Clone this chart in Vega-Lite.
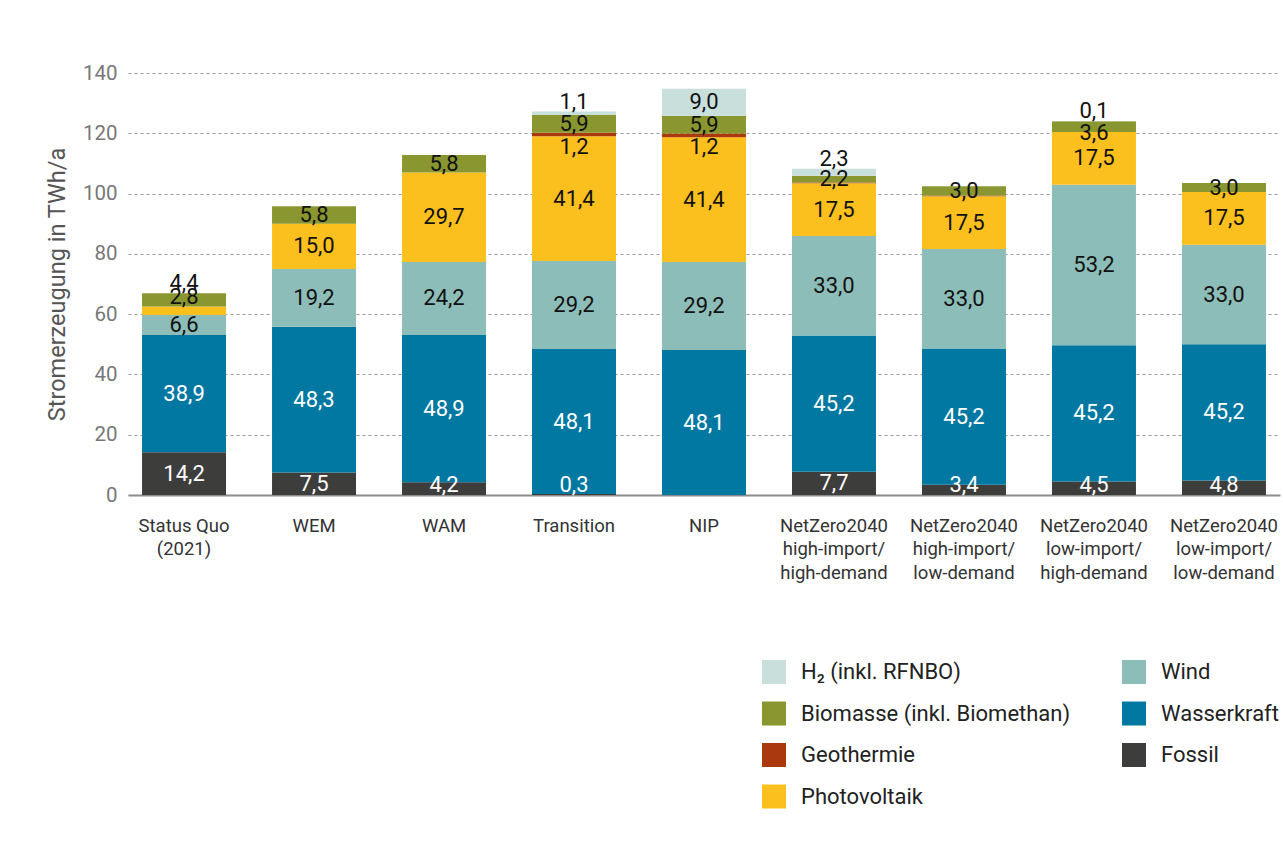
{
  "$schema": "https://vega.github.io/schema/vega-lite/v6.json",
  "autosize": {"type": "none"},
  "padding": {"left": 128, "top": 73, "right": 3, "bottom": 366},
  "width": 1152,
  "height": 422,
  "background": "#ffffff",
  "config": {
    "locale": {"number": {"decimal": ",", "thousands": ".", "grouping": [3], "currency": ["", " €"]}},
    "font": "Roboto",
    "view": {"stroke": null}
  },
  "data": {
    "values": [
      {"s": "Status Quo\n(2021)", "c": "Fossil", "v": 14.2},
      {"s": "Status Quo\n(2021)", "c": "Wasserkraft", "v": 38.9},
      {"s": "Status Quo\n(2021)", "c": "Wind", "v": 6.6},
      {"s": "Status Quo\n(2021)", "c": "Photovoltaik", "v": 2.8},
      {"s": "Status Quo\n(2021)", "c": "Biomasse", "v": 4.4},
      {"s": "WEM", "c": "Fossil", "v": 7.5},
      {"s": "WEM", "c": "Wasserkraft", "v": 48.3},
      {"s": "WEM", "c": "Wind", "v": 19.2},
      {"s": "WEM", "c": "Photovoltaik", "v": 15.0},
      {"s": "WEM", "c": "Biomasse", "v": 5.8},
      {"s": "WAM", "c": "Fossil", "v": 4.2},
      {"s": "WAM", "c": "Wasserkraft", "v": 48.9},
      {"s": "WAM", "c": "Wind", "v": 24.2},
      {"s": "WAM", "c": "Photovoltaik", "v": 29.7},
      {"s": "WAM", "c": "Biomasse", "v": 5.8},
      {"s": "Transition", "c": "Fossil", "v": 0.3},
      {"s": "Transition", "c": "Wasserkraft", "v": 48.1},
      {"s": "Transition", "c": "Wind", "v": 29.2},
      {"s": "Transition", "c": "Photovoltaik", "v": 41.4},
      {"s": "Transition", "c": "Geothermie", "v": 1.2},
      {"s": "Transition", "c": "Biomasse", "v": 5.9},
      {"s": "Transition", "c": "H2", "v": 1.1},
      {"s": "NIP", "c": "Wasserkraft", "v": 48.1},
      {"s": "NIP", "c": "Wind", "v": 29.2},
      {"s": "NIP", "c": "Photovoltaik", "v": 41.4},
      {"s": "NIP", "c": "Geothermie", "v": 1.2},
      {"s": "NIP", "c": "Biomasse", "v": 5.9},
      {"s": "NIP", "c": "H2", "v": 9.0},
      {"s": "NetZero2040\nhigh-import/\nhigh-demand", "c": "Fossil", "v": 7.7},
      {"s": "NetZero2040\nhigh-import/\nhigh-demand", "c": "Wasserkraft", "v": 45.2},
      {"s": "NetZero2040\nhigh-import/\nhigh-demand", "c": "Wind", "v": 33.0},
      {"s": "NetZero2040\nhigh-import/\nhigh-demand", "c": "Photovoltaik", "v": 17.5},
      {"s": "NetZero2040\nhigh-import/\nhigh-demand", "c": "Geothermie", "v": 0.3},
      {"s": "NetZero2040\nhigh-import/\nhigh-demand", "c": "Biomasse", "v": 2.2},
      {"s": "NetZero2040\nhigh-import/\nhigh-demand", "c": "H2", "v": 2.3},
      {"s": "NetZero2040\nhigh-import/\nlow-demand", "c": "Fossil", "v": 3.4},
      {"s": "NetZero2040\nhigh-import/\nlow-demand", "c": "Wasserkraft", "v": 45.2},
      {"s": "NetZero2040\nhigh-import/\nlow-demand", "c": "Wind", "v": 33.0},
      {"s": "NetZero2040\nhigh-import/\nlow-demand", "c": "Photovoltaik", "v": 17.5},
      {"s": "NetZero2040\nhigh-import/\nlow-demand", "c": "Geothermie", "v": 0.3},
      {"s": "NetZero2040\nhigh-import/\nlow-demand", "c": "Biomasse", "v": 3.0},
      {"s": "NetZero2040\nlow-import/\nhigh-demand", "c": "Fossil", "v": 4.5},
      {"s": "NetZero2040\nlow-import/\nhigh-demand", "c": "Wasserkraft", "v": 45.2},
      {"s": "NetZero2040\nlow-import/\nhigh-demand", "c": "Wind", "v": 53.2},
      {"s": "NetZero2040\nlow-import/\nhigh-demand", "c": "Photovoltaik", "v": 17.5},
      {"s": "NetZero2040\nlow-import/\nhigh-demand", "c": "Biomasse", "v": 3.6},
      {"s": "NetZero2040\nlow-import/\nhigh-demand", "c": "H2", "v": 0.1},
      {"s": "NetZero2040\nlow-import/\nlow-demand", "c": "Fossil", "v": 4.8},
      {"s": "NetZero2040\nlow-import/\nlow-demand", "c": "Wasserkraft", "v": 45.2},
      {"s": "NetZero2040\nlow-import/\nlow-demand", "c": "Wind", "v": 33.0},
      {"s": "NetZero2040\nlow-import/\nlow-demand", "c": "Photovoltaik", "v": 17.5},
      {"s": "NetZero2040\nlow-import/\nlow-demand", "c": "Biomasse", "v": 3.0}
    ]
  },
  "transform": [
    {"calculate": "indexof(['Fossil','Wasserkraft','Wind','Photovoltaik','Geothermie','Biomasse','H2'], datum.c)", "as": "o"},
    {"stack": "v", "groupby": ["s"], "sort": [{"field": "o", "order": "ascending"}], "as": ["y0", "y1"]},
    {"calculate": "(datum.y0 + datum.y1) / 2", "as": "mid"},
    {"calculate": "datum.c == 'Geothermie' ? datum.mid - 4 : datum.c == 'Fossil' ? max(datum.mid, 3.4) : (datum.c == 'H2' && datum.v < 3) ? datum.y1 + 3.3 : (indexof(datum.s, 'Status') == 0 && datum.c == 'Biomasse') ? datum.y1 + 3.4 : (indexof(datum.s, 'Status') == 0 && datum.c == 'Photovoltaik') ? datum.mid + 4.5 : (indexof(datum.s, 'low-import/\\nhigh') >= 0 && datum.c == 'Biomasse') ? datum.mid - 2 : datum.mid", "as": "ly"}
  ],
  "encoding": {
    "x": {
      "field": "s",
      "type": "nominal",
      "sort": ["Status Quo\n(2021)", "WEM", "WAM", "Transition", "NIP", "NetZero2040\nhigh-import/\nhigh-demand", "NetZero2040\nhigh-import/\nlow-demand", "NetZero2040\nlow-import/\nhigh-demand", "NetZero2040\nlow-import/\nlow-demand"],
      "scale": {"paddingInner": 0.354, "paddingOuter": 0.108},
      "axis": {
        "title": null,
        "labelAngle": 0,
        "labelExpr": "split(datum.label, '\\n')",
        "labelFontSize": 18.5,
        "labelColor": "#333333",
        "labelPadding": 21,
        "labelLineHeight": 23.5,
        "labelLimit": 300,
        "ticks": false,
        "tickSize": 0,
        "domain": true,
        "domainColor": "#8c8c8c",
        "domainWidth": 2,
        "grid": false
      }
    }
  },
  "layer": [
    {
      "mark": {"type": "bar"},
      "encoding": {
        "y": {
          "field": "y1",
          "type": "quantitative",
          "scale": {"domain": [0, 140]},
          "title": "Stromerzeugung in TWh/a",
          "axis": {
            "values": [0, 20, 40, 60, 80, 100, 120, 140],
            "grid": true,
            "gridDash": [3, 3],
            "gridColor": "#999999",
            "gridWidth": 1,
            "domain": false,
            "ticks": false,
            "tickSize": 0,
            "labelPadding": 11,
            "labelFontSize": 20.5,
            "labelColor": "#777777",
            "titleFontSize": 23.5,
            "titleColor": "#555555",
            "titleFontWeight": "normal",
            "titlePadding": 13
          }
        },
        "y2": {"field": "y0"},
        "color": {
          "field": "c",
          "type": "nominal",
          "scale": {
            "domain": ["H2", "Biomasse", "Geothermie", "Photovoltaik", "Wind", "Wasserkraft", "Fossil"],
            "range": ["#c9dfdc", "#8a962f", "#aa3a0e", "#fbbf1e", "#8dbdb8", "#0078a2", "#3d3d3c"]
          },
          "legend": {
            "title": null,
            "orient": "none",
            "legendX": 634,
            "legendY": 587,
            "columns": 2,
            "symbolType": "square",
            "symbolSize": 576,
            "symbolStrokeWidth": 0,
            "labelFontSize": 22,
            "labelColor": "#222222",
            "labelOffset": 15,
            "labelLimit": 400,
            "rowPadding": 17.5,
            "columnPadding": 51,
            "padding": 0,
            "labelExpr": "datum.label == 'H2' ? 'H₂ (inkl. RFNBO)' : datum.label == 'Biomasse' ? 'Biomasse (inkl. Biomethan)' : datum.label"
          }
        }
      }
    },
    {
      "transform": [{"filter": "!(datum.c == 'Geothermie' && datum.v < 1)"}],
      "mark": {"type": "text", "fontSize": 22, "baseline": "middle", "align": "center"},
      "encoding": {
        "y": {"field": "ly", "type": "quantitative", "title": "Stromerzeugung in TWh/a"},
        "text": {"field": "v", "type": "quantitative", "format": ".1f"},
        "color": {
          "condition": {"test": "datum.c == 'Fossil' || datum.c == 'Wasserkraft'", "value": "#ffffff"},
          "value": "#111111"
        }
      }
    }
  ]
}
